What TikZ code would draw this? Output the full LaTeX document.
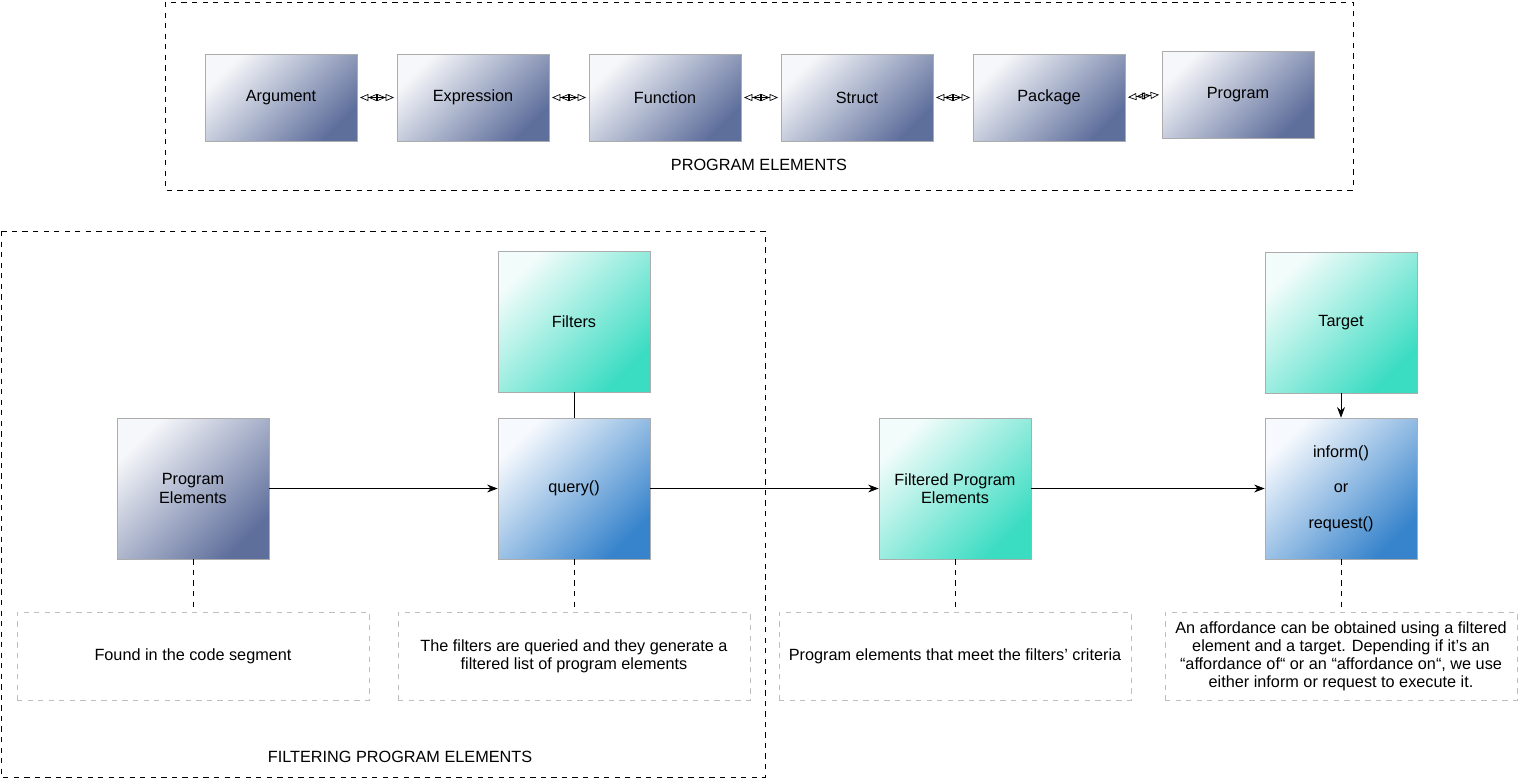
\documentclass[tikz,border=0pt]{standalone}
\usepackage{fontspec}
\setmainfont{Liberation Sans}
\usetikzlibrary{arrows.meta}

\definecolor{slate}{RGB}{95,111,156}
\definecolor{slatelight}{RGB}{246,247,250}
\definecolor{aqua}{RGB}{58,220,194}
\definecolor{aqualight}{RGB}{242,252,250}
\definecolor{callblue}{RGB}{56,132,204}
\definecolor{calllight}{RGB}{246,249,253}
\definecolor{boxline}{RGB}{172,172,172}
\definecolor{noteline}{RGB}{190,190,190}

\tikzset{
  dbltip/.tip={Triangle[open,length=4.8pt,width=4pt] Triangle[open,length=4.8pt,width=4pt]},
  elembox/.style={draw=boxline, shade, top color=slatelight, bottom color=slate, shading angle=45,
    minimum width=3.04cm, minimum height=1.74cm, inner sep=0pt, align=center},
  bigbox/.style 2 args={draw=boxline, shade, top color=#1, bottom color=#2, shading angle=45,
    minimum width=3.04cm, minimum height=2.82cm, inner sep=0pt, align=center},
  notebox/.style={draw=noteline, dashed, minimum width=7.04cm, minimum height=1.76cm, inner sep=0pt,
    align=center, font=\fontsize{9.25}{10.3}\selectfont},
}

\begin{document}
\begin{tikzpicture}[x=0.02cm,y=-0.02cm,font=\fontsize{9.25}{10.6}\selectfont]
\useasboundingbox (0,0) rectangle (1518,779);

% program elements group
\draw[dashed] (165,2) rectangle (1353,190);
\node (progtitle) at (759,165) {PROGRAM ELEMENTS};

\node[elembox] (argument) at (281,97.5) {Argument};
\node[elembox] (expression) at (473,97.5) {Expression};
\node[elembox] (function) at (665,97.5) {Function};
\node[elembox] (struct) at (857,97.5) {Struct};
\node[elembox] (package) at (1049,97.5) {Package};
\node[elembox] (program) at (1238,94.5) {Program};

\draw[dbltip-dbltip, shorten <=1.5pt, shorten >=1.5pt] (argument) -- (expression);
\draw[dbltip-dbltip, shorten <=1.5pt, shorten >=1.5pt] (expression) -- (function);
\draw[dbltip-dbltip, shorten <=1.5pt, shorten >=1.5pt] (function) -- (struct);
\draw[dbltip-dbltip, shorten <=1.5pt, shorten >=1.5pt] (struct) -- (package);
\draw[dbltip-dbltip, shorten <=1.5pt, shorten >=1.5pt] (package.east) -- (program.west);

% filtering group
\draw[dashed] (1,231) rectangle (765,777);
\node (filtertitle) at (400,757) {FILTERING PROGRAM ELEMENTS};

\node[elembox, minimum height=2.82cm] (progelems) at (193,488.5) {Program\\Elements};
\node[bigbox={aqualight}{aqua}] (filters) at (574,321.5) {Filters};
\node[bigbox={calllight}{callblue}] (query) at (574,488.5) {query()};
\node[bigbox={aqualight}{aqua}] (filtered) at (955,488.5) {Filtered Program\\Elements};
\node[bigbox={aqualight}{aqua}] (target) at (1341,322.5) {Target};
\node[bigbox={calllight}{callblue}] (inform) at (1341,488.5) {inform()\\[9.5pt]or\\[9.5pt]request()};

% notes
\node[notebox] (note1) at (193,656) {Found in the code segment};
\node[notebox] (note2) at (574,656) {The filters are queried and they generate a\\filtered list of program elements};
\node[notebox] (note3) at (955,656) {Program elements that meet the filters’ criteria};
\node[notebox] (note4) at (1341,656) {An affordance can be obtained using a filtered\\element and a target. Depending if it’s an\\“affordance of“ or an “affordance on“, we use\\either inform or request to execute it.};

\draw[-{Stealth[length=6pt,width=4.5pt]}] (progelems) -- (query);
\draw[-{Stealth[length=6pt,width=4.5pt]}] (query) -- (filtered);
\draw[-{Stealth[length=6pt,width=4.5pt]}] (filtered) -- (inform);
\draw (filters) -- (query);
\draw[-{Stealth[length=6pt,width=4.5pt]}] (target) -- (inform);

\draw[dashed] (progelems) -- (note1);
\draw[dashed] (query) -- (note2);
\draw[dashed] (filtered) -- (note3);
\draw[dashed] (inform) -- (note4);

\end{tikzpicture}
\end{document}
